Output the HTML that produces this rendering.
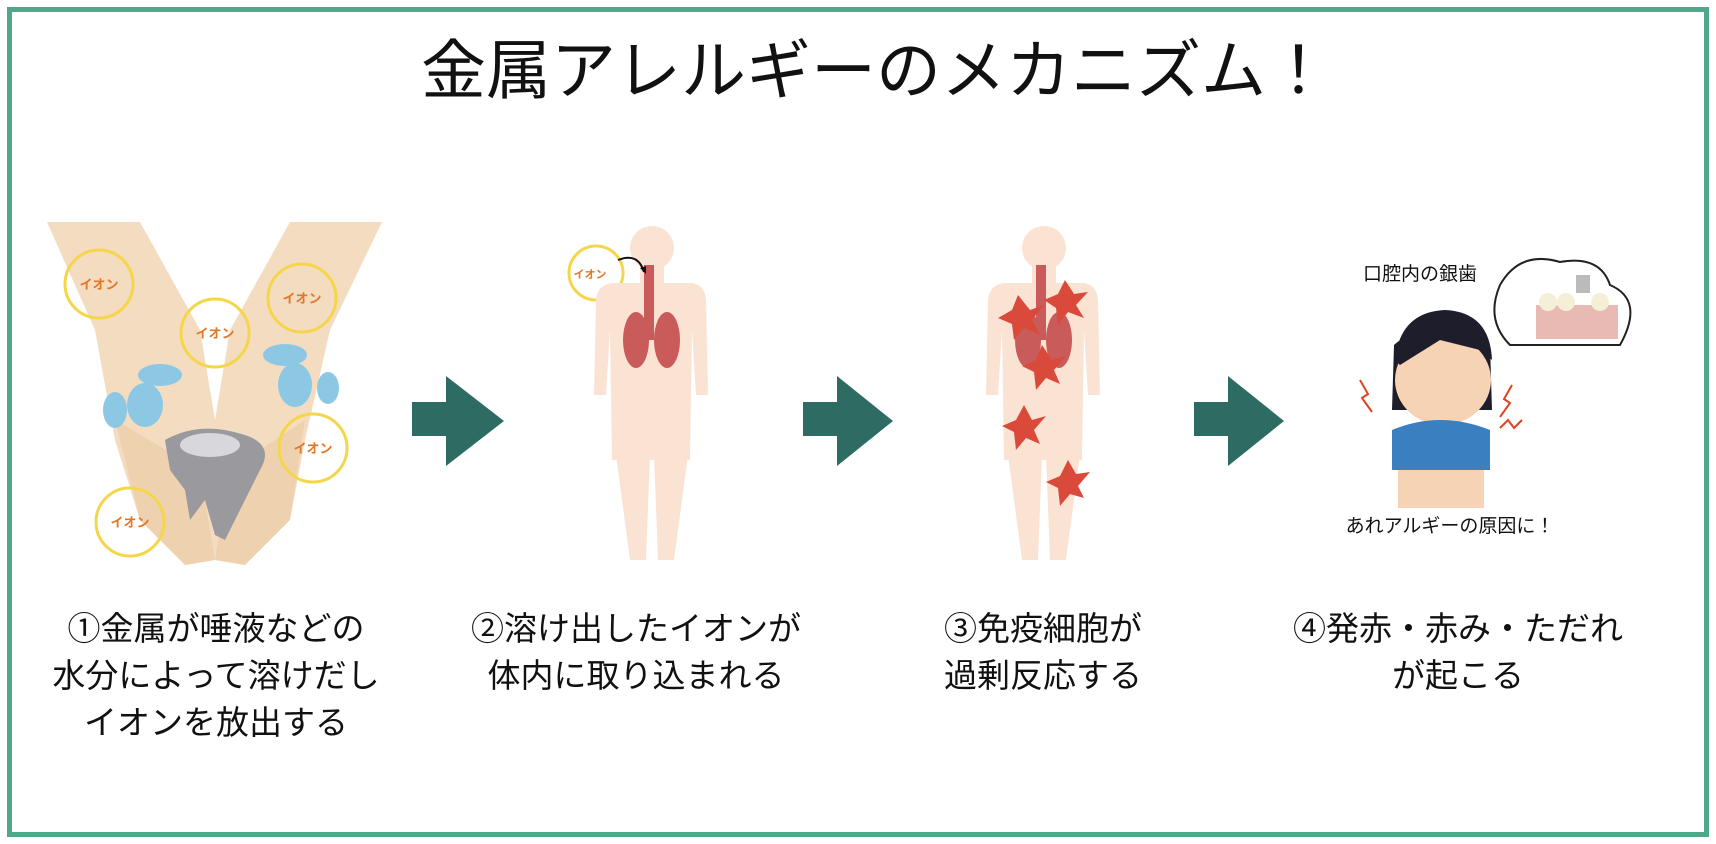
<!DOCTYPE html>
<html><head><meta charset="utf-8"><style>
html,body{margin:0;padding:0;background:#fff}
#c{position:relative;width:1716px;height:844px;overflow:hidden;font-family:"Liberation Sans","Noto Sans CJK JP",sans-serif;color:#111}
.t{position:absolute;white-space:nowrap;text-align:center}
</style></head><body><div id="c">
<svg width="1716" height="844" style="position:absolute;left:0;top:0">
<rect x="9.5" y="9.5" width="1697" height="825" fill="none" stroke="#4fa88a" stroke-width="5"/>
<path d="M47 222 L140 222 L200 330 L215 420 L230 330 L290 222 L382 222 L330 330 L305 440 L290 520 L245 565 L215 560 L185 565 L140 520 L115 440 L95 330 Z" fill="#f3dcc0"/>
<path d="M115 420 L200 470 L215 560 L185 565 L140 520Z M305 420 L230 470 L215 560 L245 565 L290 520Z" fill="#eed2b0"/>
<g fill="none" stroke="#f5d64a" stroke-width="3">
<circle cx="99" cy="284" r="34"/><circle cx="215" cy="333" r="34"/><circle cx="302" cy="298" r="34"/><circle cx="313" cy="448" r="34"/><circle cx="130" cy="522" r="34"/>
<circle cx="596" cy="273" r="27"/><circle cx="641" cy="341" r="14"/><circle cx="665" cy="367" r="12"/><circle cx="632" cy="383" r="12"/>
</g>
<g font-size="13" font-weight="bold" fill="#e0782a" text-anchor="middle" font-family="Liberation Sans,Noto Sans CJK JP,sans-serif">
<text x="99" y="289">イオン</text><text x="215" y="338">イオン</text><text x="302" y="303">イオン</text><text x="313" y="453">イオン</text><text x="130" y="527">イオン</text><text x="590" y="278" font-size="11">イオン</text>
</g>
<g fill="#8cc8e4"><ellipse cx="160" cy="375" rx="22" ry="11"/><ellipse cx="145" cy="405" rx="18" ry="22"/><ellipse cx="115" cy="410" rx="12" ry="18"/><ellipse cx="285" cy="355" rx="22" ry="11"/><ellipse cx="295" cy="385" rx="17" ry="22"/><ellipse cx="328" cy="388" rx="11" ry="16"/></g>
<path d="M165 440 Q200 420 245 435 Q275 445 260 470 L245 500 L235 520 L225 540 L215 535 L205 500 L190 520 L185 490 L170 470Z" fill="#9a9a9e"/>
<ellipse cx="210" cy="445" rx="30" ry="12" fill="#d8d8dc"/>
<g fill="#fbe3d3">
<g id="b1">
<circle cx="652" cy="248" r="22"/><rect x="640" y="262" width="24" height="22"/>
<path d="M612 283 L692 283 Q705 285 706 300 L708 395 L696 395 L692 330 L690 460 L612 460 L610 330 L606 395 L594 395 L596 300 Q597 285 612 283Z"/>
<path d="M616 455 L650 455 L646 560 L630 560Z M654 455 L688 455 L674 560 L658 560Z"/>
</g>
<use href="#b1" x="392"/>
</g>
<g fill="#c95b5b"><rect x="644" y="265" width="10" height="75"/><ellipse cx="636" cy="340" rx="13" ry="28"/><ellipse cx="667" cy="340" rx="13" ry="28"/>
<rect x="1036" y="265" width="10" height="75"/><ellipse cx="1028" cy="340" rx="13" ry="28"/><ellipse cx="1059" cy="340" rx="13" ry="28"/></g>
<path d="M618 260 Q638 252 644 272" fill="none" stroke="#111" stroke-width="2"/><path d="M640 268 L646 274 L646 266Z" fill="#111"/>
<g fill="#d94a3a">
<polygon points="1018,295 1030,310 1044,305 1032,320 1040,335 1024,328 1014,340 1012,324 998,318 1012,310"/>
<polygon points="1065,280 1074,294 1088,292 1076,305 1084,318 1068,312 1058,325 1056,308 1044,300 1058,294"/>
<polygon points="1042,345 1052,360 1066,356 1054,370 1060,384 1046,378 1036,390 1034,372 1022,366 1036,360"/>
<polygon points="1024,405 1032,420 1046,416 1034,430 1040,444 1026,438 1016,450 1014,432 1002,426 1016,420"/>
<polygon points="1068,460 1076,474 1090,472 1078,486 1084,498 1070,494 1060,506 1058,488 1046,482 1060,476"/>
</g>
<g fill="#2e6b63">
<path d="M412 402 H446 V376 L504 421 L446 466 V436 H412Z"/>
<path d="M803 402 H837 V376 L893 421 L837 466 V436 H803Z"/>
<path d="M1194 402 H1228 V376 L1284 421 L1228 466 V436 H1194Z"/>
</g>
<path d="M1500 285 Q1520 250 1560 262 Q1600 255 1610 285 Q1645 300 1620 345 L1510 345 Q1485 320 1500 285Z" fill="#fff" stroke="#222" stroke-width="2"/>
<rect x="1536" y="305" width="82" height="34" fill="#e9b9b3"/>
<g fill="#f6efd8"><circle cx="1548" cy="302" r="9"/><circle cx="1566" cy="302" r="9"/><circle cx="1600" cy="302" r="9"/></g>
<rect x="1576" y="275" width="14" height="18" fill="#bbb"/>
<path d="M1394 345 Q1440 305 1490 345 L1492 410 L1392 410Z" fill="#1d1d2b"/>
<ellipse cx="1443" cy="380" rx="48" ry="45" fill="#f6d3b4"/>
<path d="M1395 360 Q1400 312 1445 310 Q1490 312 1492 360 L1480 350 L1440 340 L1400 365Z" fill="#1d1d2b"/>
<path d="M1392 430 Q1440 410 1490 430 L1490 470 L1392 470Z" fill="#3a7fc0"/>
<rect x="1398" y="470" width="86" height="38" fill="#f6d3b4"/>
<g stroke="#d42" stroke-width="2" fill="none"><path d="M1360 380 l8 14 l-6 4 l10 14"/><path d="M1512 385 l-8 14 l6 4 l-10 14"/><path d="M1500 428 l8 -8 l6 8 l8 -8"/></g>
</svg>
<div class="t" style="left:18px;width:1716px;top:29px;font-size:65px;line-height:84px">金属アレルギーのメカニズム！</div>
<div class="t" style="left:1320px;width:200px;top:259px;font-size:19px">口腔内の銀歯</div>
<div class="t" style="left:1300px;width:300px;top:511px;font-size:19px">あれアルギーの原因に！</div>
<div class="t" style="left:16px;width:400px;top:605px;font-size:33px;line-height:47px">①金属が唾液などの<br>水分によって溶けだし<br>イオンを放出する</div>
<div class="t" style="left:436px;width:400px;top:605px;font-size:33px;line-height:47px">②溶け出したイオンが<br>体内に取り込まれる</div>
<div class="t" style="left:843px;width:400px;top:605px;font-size:33px;line-height:47px">③免疫細胞が<br>過剰反応する</div>
<div class="t" style="left:1258px;width:400px;top:605px;font-size:33px;line-height:47px">④発赤・赤み・ただれ<br>が起こる</div>
</div></body></html>
